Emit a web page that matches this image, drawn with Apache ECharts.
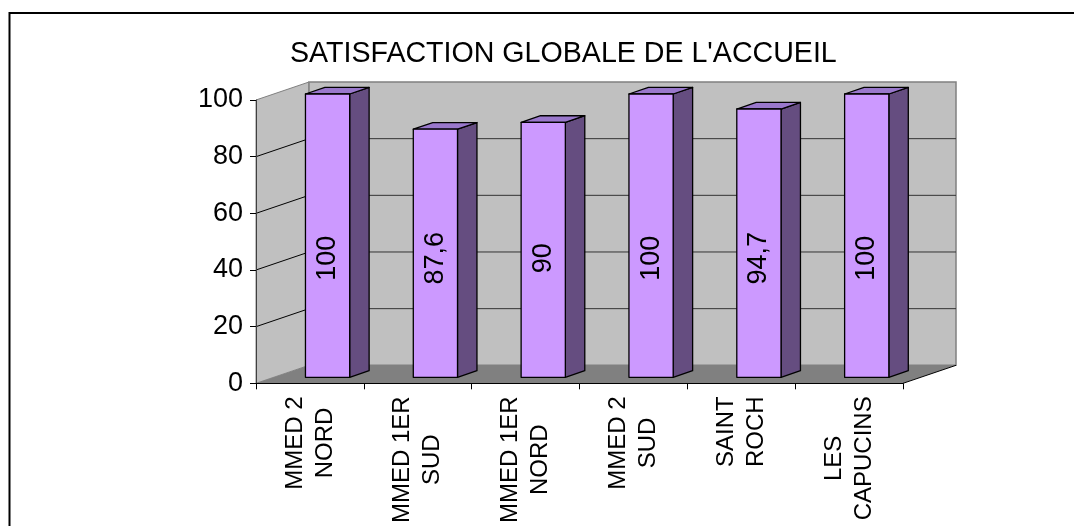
<!DOCTYPE html>
<html><head><meta charset="utf-8">
<script src="https://cdn.jsdelivr.net/npm/echarts@6/dist/echarts.min.js"></script>
<style>html,body{margin:0;padding:0;background:#fff}#c{width:1074px;height:526px}</style>
</head><body><div id="c"></div>
<script>
const titleText = "SATISFACTION GLOBALE DE L'ACCUEIL";
const categories = ["MMED 2\nNORD", "MMED 1ER\nSUD", "MMED 1ER\nNORD", "MMED 2\nSUD", "SAINT\nROCH", "LES\nCAPUCINS"];
const values = [100, 87.6, 90, 100, 94.7, 100];
const yTicks = [0, 20, 40, 60, 80, 100];

const FONT = "'Liberation Sans', Arial, sans-serif";
const DX = 53, DY = -18;          // 3D depth projection of the plot box
const F0 = 0.333, F1 = 0.70;      // bar depth range (fraction of depth)
const LABEL_AT = 42;              // data label centre, in axis units

const chart = echarts.init(document.getElementById('c'), null, {renderer: 'canvas'});

function renderWalls(params, api) {
  const cs = params.coordSys;
  const x0 = cs.x, x1 = cs.x + cs.width, yT = cs.y, yB = cs.y + cs.height;
  const ch = [];
  ch.push({type: 'polygon', shape: {points: [[x0, yB], [x1, yB], [x1 + DX, yB + DY], [x0 + DX, yB + DY]]},
    style: {fill: '#808080', stroke: null}});
  ch.push({type: 'polygon', shape: {points: [[x0, yB], [x0, yT], [x0 + DX, yT + DY], [x0 + DX, yB + DY]]},
    style: {fill: '#C0C0C0', stroke: '#808080', lineWidth: 1}});
  ch.push({type: 'rect', shape: {x: x0 + DX, y: yT + DY, width: cs.width, height: cs.height},
    style: {fill: '#C0C0C0', stroke: '#808080', lineWidth: 1.5}});
  yTicks.forEach(function (v) {
    if (v === yTicks[0] || v === yTicks[yTicks.length - 1]) return;
    const y = api.coord([0, v])[1];
    ch.push({type: 'line', shape: {x1: x0, y1: y, x2: x0 + DX, y2: y + DY}, style: {stroke: '#000', lineWidth: 1}});
    ch.push({type: 'line', shape: {x1: x0 + DX, y1: y + DY, x2: x1 + DX, y2: y + DY}, style: {stroke: '#333', lineWidth: 1}});
  });
  ch.push({type: 'line', shape: {x1: x1, y1: yB, x2: x1 + DX, y2: yB + DY}, style: {stroke: '#000', lineWidth: 1}});
  return {type: 'group', children: ch};
}

function renderBar(params, api) {
  const i = api.value(0), v = api.value(1);
  const base = api.coord([i, 0]);
  const top = api.coord([i, v]);
  const bw = api.size([1, 0])[0] * 0.41;
  const ox = F0 * DX, oy = F0 * DY;
  const ddx = (F1 - F0) * DX, ddy = (F1 - F0) * DY;
  const xl = base[0] - bw / 2 + ox, xr = xl + bw;
  const yt = top[1] + oy, yb = base[1] + oy;
  const stroke = {stroke: '#000', lineWidth: 1.3, lineJoin: 'round'};
  const ly = api.coord([i, LABEL_AT])[1] + oy;
  return {type: 'group', children: [
    {type: 'polygon', shape: {points: [[xr, yt], [xr + ddx, yt + ddy], [xr + ddx, yb + ddy], [xr, yb]]},
      style: Object.assign({fill: '#654D80'}, stroke)},
    {type: 'polygon', shape: {points: [[xl, yt], [xl + ddx, yt + ddy], [xr + ddx, yt + ddy], [xr, yt]]},
      style: Object.assign({fill: '#9A78CC'}, stroke)},
    {type: 'rect', shape: {x: xl, y: yt, width: bw, height: yb - yt},
      style: Object.assign({fill: '#CC99FF'}, stroke)},
    {type: 'text', x: (xl + xr) / 2, y: ly, rotation: Math.PI / 2,
      style: {text: String(v).replace('.', ','), fontSize: 27, fontFamily: FONT, fill: '#000',
        align: 'center', verticalAlign: 'middle'}}
  ]};
}

chart.setOption({
  animation: false,
  backgroundColor: '#fff',
  title: {text: titleText, left: 285, top: 35,
    textStyle: {fontSize: 28.6, fontWeight: 'normal', color: '#000', fontFamily: FONT}},
  graphic: [{type: 'rect', shape: {x: 9.5, y: 13, width: 1120, height: 600},
    style: {fill: null, stroke: '#000', lineWidth: 2}, z: 100}],
  grid: {left: 256, right: 171, top: 100, bottom: 142, containLabel: false},
  xAxis: {type: 'category', data: categories, z: 10,
    axisLine: {lineStyle: {color: '#000', width: 1}},
    axisTick: {show: true, length: 6, lineStyle: {color: '#000'}},
    axisLabel: {rotate: 90, margin: 13, color: '#000', fontFamily: FONT, fontSize: 24, interval: 0,
      formatter: function (s) { return s.split('\n').map(function (l) { return '{c|' + l + '}'; }).join('\n'); },
      rich: {c: {align: 'center', fontSize: 24, fontFamily: FONT, color: '#000', lineHeight: 30}}},
    splitLine: {show: false}},
  yAxis: {type: 'value', min: 0, max: 100, interval: 20, z: 10,
    axisLine: {show: true, lineStyle: {color: '#404040', width: 1}},
    axisTick: {show: true, length: 6, lineStyle: {color: '#000'}},
    axisLabel: {margin: 13, color: '#000', fontFamily: FONT, fontSize: 27},
    splitLine: {show: false}},
  series: [
    {type: 'custom', z: 1, silent: true, clip: false, data: [[0, 0]], renderItem: renderWalls},
    {type: 'custom', z: 3, silent: true, clip: false,
      data: values.map(function (v, i) { return [i, v]; }), renderItem: renderBar}
  ]
});
</script></body></html>
